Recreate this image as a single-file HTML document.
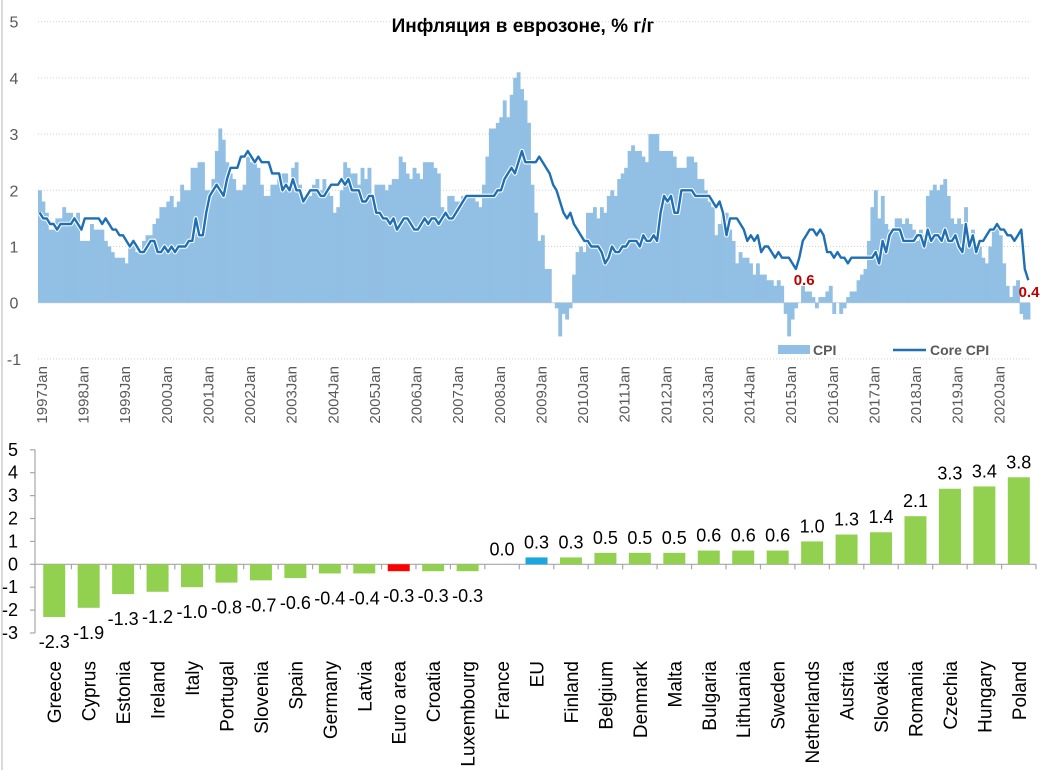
<!DOCTYPE html>
<html><head><meta charset="utf-8"><style>
html,body{margin:0;padding:0;background:#fff}
svg{display:block;font-family:"Liberation Sans","DejaVu Sans",sans-serif}
</style></head><body>
<svg id="svg" width="1046" height="770" viewBox="0 0 1046 770">
<rect x="0" y="0" width="1046" height="770" fill="#fff"/>
<line x1="2" y1="0" x2="2" y2="770" stroke="#d9d9d9" stroke-width="2"/>
<text x="523" y="32" text-anchor="middle" font-size="19" font-weight="bold" fill="#000">Инфляция в еврозоне, % г/г</text>
<g id="topchart"></g>
<g id="botchart"></g>
</svg>
<script>
const cpi=[
2.0,1.8,1.6,1.3,1.3,1.5,1.5,1.7,1.6,1.6,1.5,1.6,
1.1,1.1,1.1,1.4,1.3,1.3,1.3,1.1,1.0,0.9,0.8,0.8,
0.8,0.7,1.0,1.1,0.9,0.9,1.1,1.2,1.2,1.4,1.5,1.7,
1.7,1.8,1.9,1.7,1.8,2.1,2.0,2.0,2.4,2.4,2.5,2.5,
2.0,2.0,2.2,2.7,3.1,2.9,2.5,2.3,2.2,2.0,2.0,2.1,
2.6,2.5,2.5,2.4,2.1,1.9,1.9,2.1,2.1,2.2,2.3,2.3,
2.1,2.4,2.5,2.1,1.8,1.9,1.9,2.1,2.2,2.0,2.2,2.0,
1.9,1.6,1.7,2.0,2.5,2.4,2.3,2.3,2.1,2.4,2.2,2.4,
1.9,2.1,2.1,2.1,2.0,2.1,2.2,2.2,2.6,2.5,2.3,2.2,
2.4,2.3,2.2,2.5,2.5,2.5,2.4,2.3,1.7,1.6,1.9,1.9,
1.8,1.8,1.9,1.9,1.9,1.9,1.8,1.7,2.1,2.6,3.1,3.1,
3.2,3.3,3.6,3.3,3.7,4.0,4.1,3.8,3.6,3.2,2.1,1.6,
1.1,1.2,0.6,0.6,0.0,-0.1,-0.6,-0.2,-0.3,-0.1,0.5,0.9,
1.0,0.9,1.6,1.6,1.7,1.5,1.7,1.6,1.9,2.0,1.9,2.2,
2.3,2.4,2.7,2.8,2.7,2.7,2.6,2.5,3.0,3.0,3.0,2.7,
2.7,2.7,2.7,2.6,2.4,2.4,2.4,2.6,2.6,2.5,2.2,2.2,
2.0,1.8,1.7,1.2,1.4,1.6,1.6,1.3,1.1,0.7,0.9,0.8,
0.8,0.7,0.5,0.7,0.5,0.5,0.4,0.4,0.3,0.4,0.3,-0.2,
-0.6,-0.3,-0.1,0.0,0.3,0.2,0.2,0.1,-0.1,0.1,0.1,0.2,
0.3,-0.2,0.0,-0.2,-0.1,0.1,0.2,0.2,0.4,0.5,0.6,1.1,
1.7,2.0,1.5,1.9,1.4,1.3,1.3,1.5,1.5,1.4,1.5,1.4,
1.3,1.1,1.3,1.2,1.9,2.0,2.1,2.0,2.1,2.2,1.9,1.5,
1.4,1.5,1.4,1.7,1.2,1.3,1.0,1.0,0.8,0.7,1.0,1.3,
1.4,1.2,0.7,0.3,0.1,0.3,0.4,-0.2,-0.3,-0.3];
const core=[
1.6,1.5,1.5,1.4,1.4,1.3,1.4,1.4,1.4,1.4,1.5,1.4,
1.3,1.5,1.5,1.5,1.5,1.5,1.4,1.5,1.4,1.3,1.3,1.2,
1.2,1.1,1.0,1.1,1.0,0.9,0.9,1.0,1.1,1.1,0.9,0.9,
1.0,0.9,1.0,0.9,1.0,1.0,1.0,1.1,1.1,1.5,1.2,1.2,
1.6,1.9,2.0,2.1,2.0,1.9,2.2,2.4,2.4,2.4,2.6,2.6,
2.7,2.6,2.5,2.6,2.5,2.5,2.5,2.3,2.3,2.3,2.0,2.1,
2.0,2.2,2.0,2.0,1.8,1.9,2.0,2.0,2.0,1.9,1.9,2.0,
2.1,2.1,2.1,2.2,2.1,2.2,2.0,2.0,2.0,1.8,1.8,1.9,
1.9,1.6,1.6,1.5,1.5,1.4,1.5,1.3,1.4,1.5,1.5,1.4,
1.3,1.3,1.4,1.5,1.4,1.5,1.5,1.4,1.5,1.6,1.5,1.5,
1.6,1.7,1.8,1.9,1.9,1.9,1.9,1.9,1.9,1.9,1.9,1.9,
2.0,2.0,2.2,2.3,2.4,2.3,2.5,2.7,2.5,2.5,2.5,2.5,
2.6,2.5,2.4,2.3,2.1,2.0,1.8,1.6,1.5,1.6,1.4,1.3,
1.2,1.1,1.1,1.0,1.0,1.0,0.9,0.7,0.8,1.0,0.9,0.9,
1.0,1.0,1.1,1.1,1.1,1.0,1.2,1.1,1.1,1.2,1.1,1.6,
1.9,1.8,1.9,1.6,1.6,2.0,2.0,2.0,2.0,1.9,1.9,1.9,
1.9,1.9,1.8,1.7,1.8,1.6,1.2,1.5,1.5,1.5,1.4,1.3,
1.1,1.2,1.1,1.2,0.9,1.0,1.0,0.9,0.8,0.9,0.8,0.8,
0.8,0.7,0.6,0.8,1.1,1.2,1.3,1.3,1.2,1.3,1.2,0.9,
0.9,0.8,0.9,0.8,0.8,0.7,0.8,0.8,0.8,0.8,0.8,0.8,
0.8,0.9,0.7,1.1,0.9,1.2,1.3,1.3,1.3,1.1,1.1,1.1,
1.1,1.2,1.2,1.0,1.3,1.1,1.2,1.2,1.1,1.3,1.1,1.1,
1.2,1.0,0.9,1.4,1.0,1.2,0.9,1.1,1.1,1.2,1.3,1.3,
1.4,1.3,1.3,1.2,1.2,1.1,1.2,1.3,0.6,0.4];
const yTicksTop=[5,4,3,2,1,0,-1];
const startYear=1997;
const countries=["Greece","Cyprus","Estonia","Ireland","Italy","Portugal","Slovenia","Spain","Germany","Latvia","Euro area","Croatia","Luxembourg","France","EU","Finland","Belgium","Denmark","Malta","Bulgaria","Lithuania","Sweden","Netherlands","Austria","Slovakia","Romania","Czechia","Hungary","Poland"];
const rates=[-2.3,-1.9,-1.3,-1.2,-1.0,-0.8,-0.7,-0.6,-0.4,-0.4,-0.3,-0.3,-0.3,0.0,0.3,0.3,0.5,0.5,0.5,0.6,0.6,0.6,1.0,1.3,1.4,2.1,3.3,3.4,3.8];
const yTicksBot=[5,4,3,2,1,0,-1,-2,-3];

const NS="http://www.w3.org/2000/svg";
function mk(tag,attrs,parent,txt){const e=document.createElementNS(NS,tag);for(const k in attrs)e.setAttribute(k,attrs[k]);if(txt!==undefined)e.textContent=txt;parent.appendChild(e);return e;}

// ---- top chart ----
const topG=document.getElementById('topchart');
const tx0=38,tx1=1030,mw=(tx1-tx0)/286;
const yT=v=>302.7-v*56.2;
const xM=i=>tx0+i*mw;
yTicksTop.forEach(v=>{
  const l=mk('line',{x1:tx0,x2:tx1,y1:yT(v),y2:yT(v),stroke:'#d0d0d0','stroke-width':1,'stroke-dasharray':v===0?'none':'1 2'},topG);
  
  
  const t=mk('text',{x:14,y:yT(v)+6,'text-anchor':'middle','font-size':16,fill:'#595959'},topG,String(v));
  
  
});
const bars=mk('g',{},topG);


cpi.forEach((v,i)=>{
  const y0=yT(0),y1=yT(v);
  const r=mk('rect',{x:xM(i),y:Math.min(y0,y1),width:mw+0.4,height:Math.abs(y1-y0),fill:'#92bfe4'},bars);
  
  
});
let d='';
core.forEach((v,i)=>{d+=(i?'L':'M')+(xM(i)+mw/2).toFixed(1)+','+yT(v).toFixed(1);});
const halo=mk('path',{d:d,fill:'none',stroke:'#fff','stroke-width':4.5,'stroke-linejoin':'round'},topG);


const ln=mk('path',{d:d,fill:'none',stroke:'#1f6fb5','stroke-width':2.4,'stroke-linejoin':'round'},topG);


for(let y=0;y<24;y++){
  const x=xM(y*12)+9;
  const t=mk('text',{x:x,y:366,'text-anchor':'end','font-size':15,fill:'#595959',transform:`rotate(-90 ${x} 366)`},topG,(startYear+y)+'Jan');
  
  
}
const minIdx=218;
const a1=mk('text',{x:xM(minIdx)+10,y:285,'text-anchor':'middle','font-size':15,'font-weight':'bold',fill:'#c00000'},topG,String(core[minIdx]));


const a2=mk('text',{x:1029,y:297,'text-anchor':'middle','font-size':15,'font-weight':'bold',fill:'#c00000'},topG,String(core[core.length-1]));


const lg=mk('g',{},topG);


const ls=mk('rect',{x:778,y:345,width:32,height:9,fill:'#92bfe4'},lg);


const lt=mk('text',{x:813,y:355,'font-size':14,'font-weight':'bold',fill:'#595959'},lg,'CPI');


const ll=mk('line',{x1:893,x2:926,y1:350,y2:350,stroke:'#1f6fb5','stroke-width':2.4},lg);


const lt2=mk('text',{x:930,y:355,'font-size':14,'font-weight':'bold',fill:'#595959'},lg,'Core CPI');



// ---- bottom chart ----
const botG=document.getElementById('botchart');
const bx0=37,cw=34.45;
const yB=v=>564.3-v*22.9;
const ax=mk('line',{x1:35,x2:35,y1:yB(5),y2:yB(-3),stroke:'#a6a6a6','stroke-width':1.2},botG);


yTicksBot.forEach(v=>{
  const tk=mk('line',{x1:30,x2:35,y1:yB(v),y2:yB(v),stroke:'#a6a6a6','stroke-width':1.2},botG);
  
  
  const t=mk('text',{x:18,y:yB(v)+6,'text-anchor':'end','font-size':18,fill:'#000'},botG,String(v));
  
  
});
const za=mk('line',{x1:35,x2:bx0+cw*countries.length,y1:yB(0),y2:yB(0),stroke:'#a6a6a6','stroke-width':1.2},botG);


countries.forEach((c,i)=>{
  const bx=bx0+cw*(i+1);
  const tk=mk('line',{x1:bx,x2:bx,y1:yB(0),y2:yB(0)+5,stroke:'#a6a6a6','stroke-width':1.2},botG);
  
  
  const v=rates[i],cx=bx0+cw*(i+0.5);
  const col=c==='Euro area'?'#ff0000':(c==='EU'?'#1aa7de':'#92d050');
  const y0=yB(0),y1=yB(v);
  const r=mk('rect',{x:cx-11,y:Math.min(y0,y1),width:22,height:Math.abs(y1-y0),fill:col},botG);
  
  
  const ly=v<0?y1+31:y1-9;
  const vl=mk('text',{x:cx,y:ly,'text-anchor':'middle','font-size':18,fill:'#000'},botG,v.toFixed(1));
  
  
  const tx=cx+7;
  const cl=mk('text',{x:tx,y:661,'text-anchor':'end','font-size':19,fill:'#000',transform:`rotate(-90 ${tx} 661)`},botG,c);
  
  
});
</script>
</body></html>
